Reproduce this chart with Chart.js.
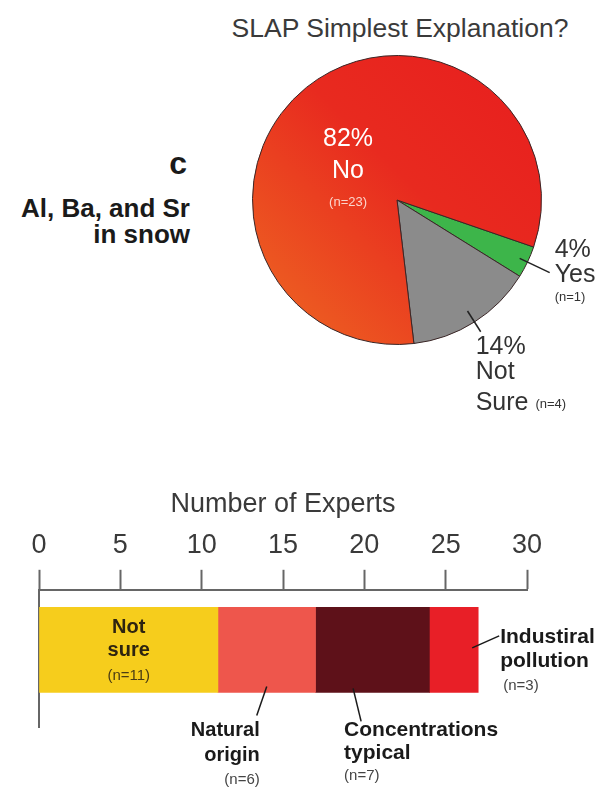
<!DOCTYPE html>
<html>
<head>
<meta charset="utf-8">
<script src="https://cdn.jsdelivr.net/npm/chart.js@4.4.0/dist/chart.umd.min.js"></script>
<style>
    html, body { margin: 0; padding: 0; background: #fff; }
    body { width: 595px; height: 787px; position: relative; overflow: hidden; font-family: "Liberation Sans", Arial, sans-serif; }
    canvas { position: absolute; left: 0; }
    #pieChart { top: 0; }
    #barChart { top: 480px; }
    .txt { position: absolute; white-space: nowrap; }
    #pieTitle { left: 230px; top: 12px; width: 340px; text-align: center; font-size: 26.5px; line-height: 32px; color: #3a3a3a; }
    #panel { right: 408px; top: 145px; font-size: 32px; line-height: 36px; font-weight: bold; color: #1a1a1a; }
    #subject { right: 405px; top: 195px; font-size: 26px; line-height: 26px; font-weight: bold; color: #1a1a1a; text-align: right; }
</style>
</head>
<body>
<div class="txt" id="pieTitle">SLAP Simplest Explanation?</div>
<div class="txt" id="panel">c</div>
<div class="txt" id="subject">Al, Ba, and Sr<br>in snow</div>
<canvas id="pieChart" width="595" height="430"></canvas>
<canvas id="barChart" width="595" height="307"></canvas>
<script>
"use strict";

// Kakdiagram: svar på frågan om SLAP är den enklaste förklaringen
const pieLabels = ['Yes', 'Not Sure', 'No'];
const pieCounts = [1, 4, 23];

// Stapeln: antal experter per förklaring
const categories = ['Not sure', 'Natural origin', 'Concentrations typical', 'Industiral pollution'];
const expertCounts = [11, 6, 7, 3];
const axisMin = 0;
const axisMax = 30;
const axisStep = 5;

const barColors = ['#f6cd1c', '#ee564c', '#5e1119', '#e81f27'];
const fontFamily = '"Liberation Sans", Arial, sans-serif';

/**
 * Röd yta med en svag övergång mot orange nertill till vänster.
 */
function redFill(context) {
    const chart = context.chart;
    const area = chart.chartArea;
    if (!area) {
        return '#e8281f';
    }
    const g = chart.ctx.createLinearGradient(area.right, area.top, area.left, area.bottom);
    g.addColorStop(0, '#e81e1e');
    g.addColorStop(0.45, '#e82a1f');
    g.addColorStop(1, '#ee6a22');
    return g;
}

function sliceColor(context) {
    const label = pieLabels[context.dataIndex];
    if (label === 'Yes') return '#3db54a';
    if (label === 'Not Sure') return '#8b8b8b';
    return redFill(context);
}

/**
 * Skriver procent, namn och antal vid varje tårtbit.
 */
const pieLabelPlugin = {
    id: 'pieLabels',
    afterDatasetsDraw(chart) {
        const ctx = chart.ctx;
        const total = pieCounts.reduce((a, b) => a + b, 0);

        chart.getDatasetMeta(0).data.forEach((arc, i) => {
            const p = arc.getProps(['x', 'y', 'startAngle', 'endAngle', 'outerRadius'], true);
            const mid = (p.startAngle + p.endAngle) / 2;
            const at = f => ({
                x: p.x + Math.cos(mid) * p.outerRadius * f,
                y: p.y + Math.sin(mid) * p.outerRadius * f
            });
            const pct = Math.round(pieCounts[i] / total * 100) + '%';
            const n = '(n=' + pieCounts[i] + ')';
            const words = pieLabels[i].split(' ');

            ctx.save();
            ctx.textBaseline = 'middle';

            if (pieLabels[i] === 'No') {
                const c = at(0.54);
                ctx.fillStyle = '#ffffff';
                ctx.textAlign = 'center';
                ctx.font = '25px ' + fontFamily;
                ctx.fillText(pct, c.x, c.y);
                ctx.fillText(words[0], c.x, c.y + 32);
                ctx.fillStyle = '#fbd5cc';
                ctx.font = '13px ' + fontFamily;
                ctx.fillText(n, c.x, c.y + 63);
            } else {
                const inner = pieLabels[i] === 'Yes' ? 0.94 : 0.91;
                const outer = pieLabels[i] === 'Yes' ? 1.17 : 1.08;
                const a = at(inner);
                const b = at(outer);
                ctx.strokeStyle = '#222';
                ctx.lineWidth = 1.5;
                ctx.beginPath();
                ctx.moveTo(a.x, a.y);
                ctx.lineTo(b.x, b.y);
                ctx.stroke();

                ctx.fillStyle = '#333';
                ctx.textAlign = 'left';
                ctx.font = '25px ' + fontFamily;
                if (pieLabels[i] === 'Yes') {
                    const tx = b.x + 5;
                    ctx.fillText(pct, tx, b.y - 22);
                    ctx.fillText(words[0], tx, b.y + 3);
                    ctx.font = '13px ' + fontFamily;
                    ctx.fillText(n, tx, b.y + 25);
                } else {
                    const tx = b.x - 5;
                    ctx.fillText(pct, tx, b.y + 15);
                    ctx.fillText(words[0], tx, b.y + 40);
                    ctx.fillText(words[1], tx, b.y + 71);
                    const w = ctx.measureText(words[1] + ' ').width;
                    ctx.font = '13px ' + fontFamily;
                    ctx.fillText(n, tx + w, b.y + 73);
                }
            }
            ctx.restore();
        });
    }
};

/**
 * Etiketter för stapelns delar: inuti, under med streck eller till höger.
 */
const barLabelPlugin = {
    id: 'barLabels',
    afterDatasetsDraw(chart) {
        const ctx = chart.ctx;

        chart.data.datasets.forEach((ds, i) => {
            const bar = chart.getDatasetMeta(i).data[0];
            const p = bar.getProps(['x', 'y', 'base', 'height'], true);
            const bottom = p.y + p.height / 2;
            const cx = (p.x + p.base) / 2;
            const words = categories[i].split(' ');
            const n = '(n=' + expertCounts[i] + ')';
            const bold = size => 'bold ' + size + 'px ' + fontFamily;
            const plain = size => size + 'px ' + fontFamily;

            const leader = (x1, y1, x2, y2) => {
                ctx.strokeStyle = '#1a1a1a';
                ctx.lineWidth = 1.5;
                ctx.beginPath();
                ctx.moveTo(x1, y1);
                ctx.lineTo(x2, y2);
                ctx.stroke();
            };

            ctx.save();
            ctx.textBaseline = 'middle';

            if (i === 0) {
                ctx.textAlign = 'center';
                ctx.fillStyle = '#2e2410';
                ctx.font = bold(20);
                ctx.fillText(words[0], cx, p.y - 22);
                ctx.fillText(words[1], cx, p.y + 1);
                ctx.fillStyle = '#4a3c14';
                ctx.font = plain(15);
                ctx.fillText(n, cx, p.y + 26);
            } else if (i === 1) {
                const ex = cx - 10, ey = bottom + 23;
                leader(cx, bottom - 6, ex, ey);
                ctx.textAlign = 'right';
                ctx.fillStyle = '#1a1a1a';
                ctx.font = bold(20);
                ctx.fillText(words[0], ex + 3, ey + 15);
                ctx.fillText(words[1], ex + 3, ey + 40);
                ctx.fillStyle = '#444';
                ctx.font = plain(15);
                ctx.fillText(n, ex + 3, ey + 64);
            } else if (i === 2) {
                const sx = p.base + (p.x - p.base) * 0.33;
                const ex = sx + 8, ey = bottom + 29;
                leader(sx, bottom - 4, ex, ey);
                ctx.textAlign = 'left';
                ctx.fillStyle = '#1a1a1a';
                ctx.font = bold(21);
                ctx.fillText(words[0], ex - 17, ey + 9);
                ctx.fillText(words[1], ex - 17, ey + 32);
                ctx.fillStyle = '#444';
                ctx.font = plain(15);
                ctx.fillText(n, ex - 17, ey + 54);
            } else {
                const ex = p.x + 21, ey = p.y - 14;
                leader(p.x - 6, p.y - 2, ex, ey);
                ctx.textAlign = 'left';
                ctx.fillStyle = '#1a1a1a';
                ctx.font = bold(21);
                ctx.fillText(words[0], ex + 1, p.y - 13);
                ctx.fillText(words[1], ex + 1, p.y + 11);
                ctx.fillStyle = '#444';
                ctx.font = plain(15);
                ctx.fillText(n, ex + 4, p.y + 36);
            }
            ctx.restore();
        });
    }
};

new Chart(document.getElementById('pieChart'), {
    type: 'pie',
    data: {
        labels: pieLabels,
        datasets: [{
            data: pieCounts,
            backgroundColor: sliceColor,
            borderColor: '#3a2626',
            borderWidth: 1,
            hoverOffset: 0
        }]
    },
    options: {
        responsive: false,
        animation: false,
        rotation: 109,
        layout: { padding: { left: 252, right: 53, top: 55, bottom: 85 } },
        plugins: {
            legend: { display: false },
            tooltip: { enabled: false }
        }
    },
    plugins: [pieLabelPlugin]
});

new Chart(document.getElementById('barChart'), {
    type: 'bar',
    data: {
        labels: [0],
        datasets: categories.map((name, i) => ({
            label: name,
            data: [expertCounts[i]],
            backgroundColor: barColors[i],
            borderWidth: 0,
            barThickness: 85
        }))
    },
    options: {
        indexAxis: 'y',
        responsive: false,
        animation: false,
        layout: { padding: { left: 39, right: 68, top: 8, bottom: 60 } },
        plugins: {
            legend: { display: false },
            tooltip: { enabled: false }
        },
        scales: {
            x: {
                position: 'top',
                stacked: true,
                min: axisMin,
                max: axisMax,
                ticks: {
                    stepSize: axisStep,
                    color: '#3a3a3a',
                    font: { family: fontFamily, size: 27 },
                    padding: 8
                },
                grid: {
                    drawOnChartArea: false,
                    drawTicks: true,
                    tickLength: 20,
                    tickColor: '#666',
                    tickWidth: 2
                },
                border: { display: true, color: '#666', width: 2 },
                title: {
                    display: true,
                    text: 'Number of Experts',
                    color: '#3a3a3a',
                    font: { family: fontFamily, size: 27 },
                    padding: { top: 0, bottom: 1 }
                }
            },
            y: {
                type: 'linear',
                stacked: true,
                min: -1.35,
                max: 1,
                ticks: { display: false },
                grid: { display: false, drawTicks: false },
                border: { display: true, color: '#666', width: 2 }
            }
        }
    },
    plugins: [barLabelPlugin]
});
</script>
</body>
</html>
